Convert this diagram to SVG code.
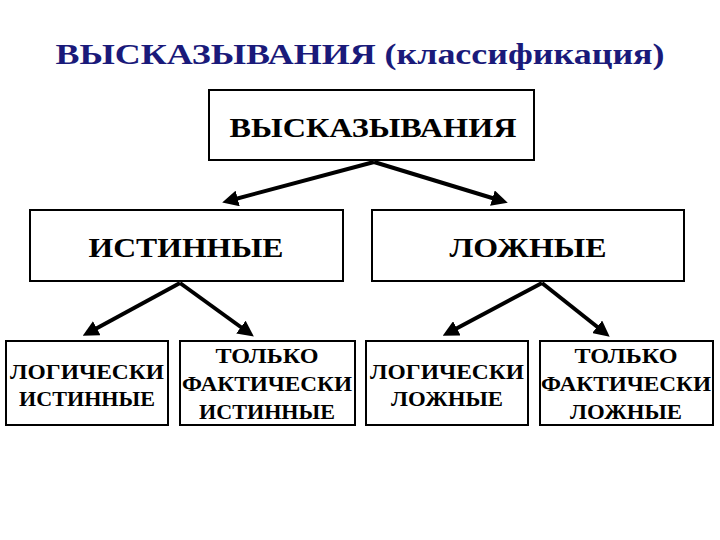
<svg xmlns="http://www.w3.org/2000/svg" width="720" height="540" viewBox="0 0 720 540">
<style>
rect{fill:#fff;stroke:#000;stroke-width:2}
text{font-family:'Liberation Serif','Times New Roman',serif;font-weight:bold;text-anchor:middle;fill:#000}
.m{font-size:28px}.s{font-size:21px}
.c line{stroke:#000;stroke-width:4;marker-end:url(#a)}
</style>
<defs><marker id="a" markerWidth="4" markerHeight="4" refX="2.5" refY="2" orient="auto"><path d="M0,0L4,2L0,4z" fill="#000"/></marker></defs>
<rect x="0" y="0" width="720" height="540" style="stroke:none"/>
<text x="360" y="64" style="font-size:30px;fill:#1a1a7a" textLength="609" lengthAdjust="spacingAndGlyphs">ВЫСКАЗЫВАНИЯ (классификация)</text>
<g id="root"><rect x="209" y="90" width="325" height="70"/><text class="m" x="373" y="137" textLength="287" lengthAdjust="spacingAndGlyphs">ВЫСКАЗЫВАНИЯ</text></g>
<g id="true"><rect x="30" y="210" width="313" height="71"/><text class="m" x="186" y="257" textLength="195" lengthAdjust="spacingAndGlyphs">ИСТИННЫЕ</text></g>
<g id="false"><rect x="372" y="210" width="312" height="71"/><text class="m" x="528" y="257" textLength="157" lengthAdjust="spacingAndGlyphs">ЛОЖНЫЕ</text></g>
<g id="lt"><rect x="6" y="341" width="162" height="84"/><text class="s" x="87" y="379" textLength="154" lengthAdjust="spacingAndGlyphs">ЛОГИЧЕСКИ</text><text class="s" x="87" y="406" textLength="136" lengthAdjust="spacingAndGlyphs">ИСТИННЫЕ</text></g>
<g id="ft"><rect x="180" y="341" width="175" height="84"/><text class="s" x="267" y="363" textLength="103" lengthAdjust="spacingAndGlyphs">ТОЛЬКО</text><text class="s" x="267" y="391" textLength="170" lengthAdjust="spacingAndGlyphs">ФАКТИЧЕСКИ</text><text class="s" x="267" y="419" textLength="136" lengthAdjust="spacingAndGlyphs">ИСТИННЫЕ</text></g>
<g id="lf"><rect x="366" y="341" width="162" height="84"/><text class="s" x="447" y="379" textLength="154" lengthAdjust="spacingAndGlyphs">ЛОГИЧЕСКИ</text><text class="s" x="447" y="406" textLength="112" lengthAdjust="spacingAndGlyphs">ЛОЖНЫЕ</text></g>
<g id="ff"><rect x="540" y="341" width="173" height="84"/><text class="s" x="626" y="363" textLength="103" lengthAdjust="spacingAndGlyphs">ТОЛЬКО</text><text class="s" x="626" y="391" textLength="170" lengthAdjust="spacingAndGlyphs">ФАКТИЧЕСКИ</text><text class="s" x="626" y="419" textLength="112" lengthAdjust="spacingAndGlyphs">ЛОЖНЫЕ</text></g>
<g class="c">
<line x1="374" y1="162" x2="228" y2="201"/>
<line x1="374" y1="162" x2="502" y2="201"/>
<line x1="180" y1="283" x2="88" y2="333"/>
<line x1="180" y1="283" x2="249" y2="333"/>
<line x1="542" y1="283" x2="448" y2="333"/>
<line x1="542" y1="283" x2="605" y2="333"/>
</g>
</svg>
